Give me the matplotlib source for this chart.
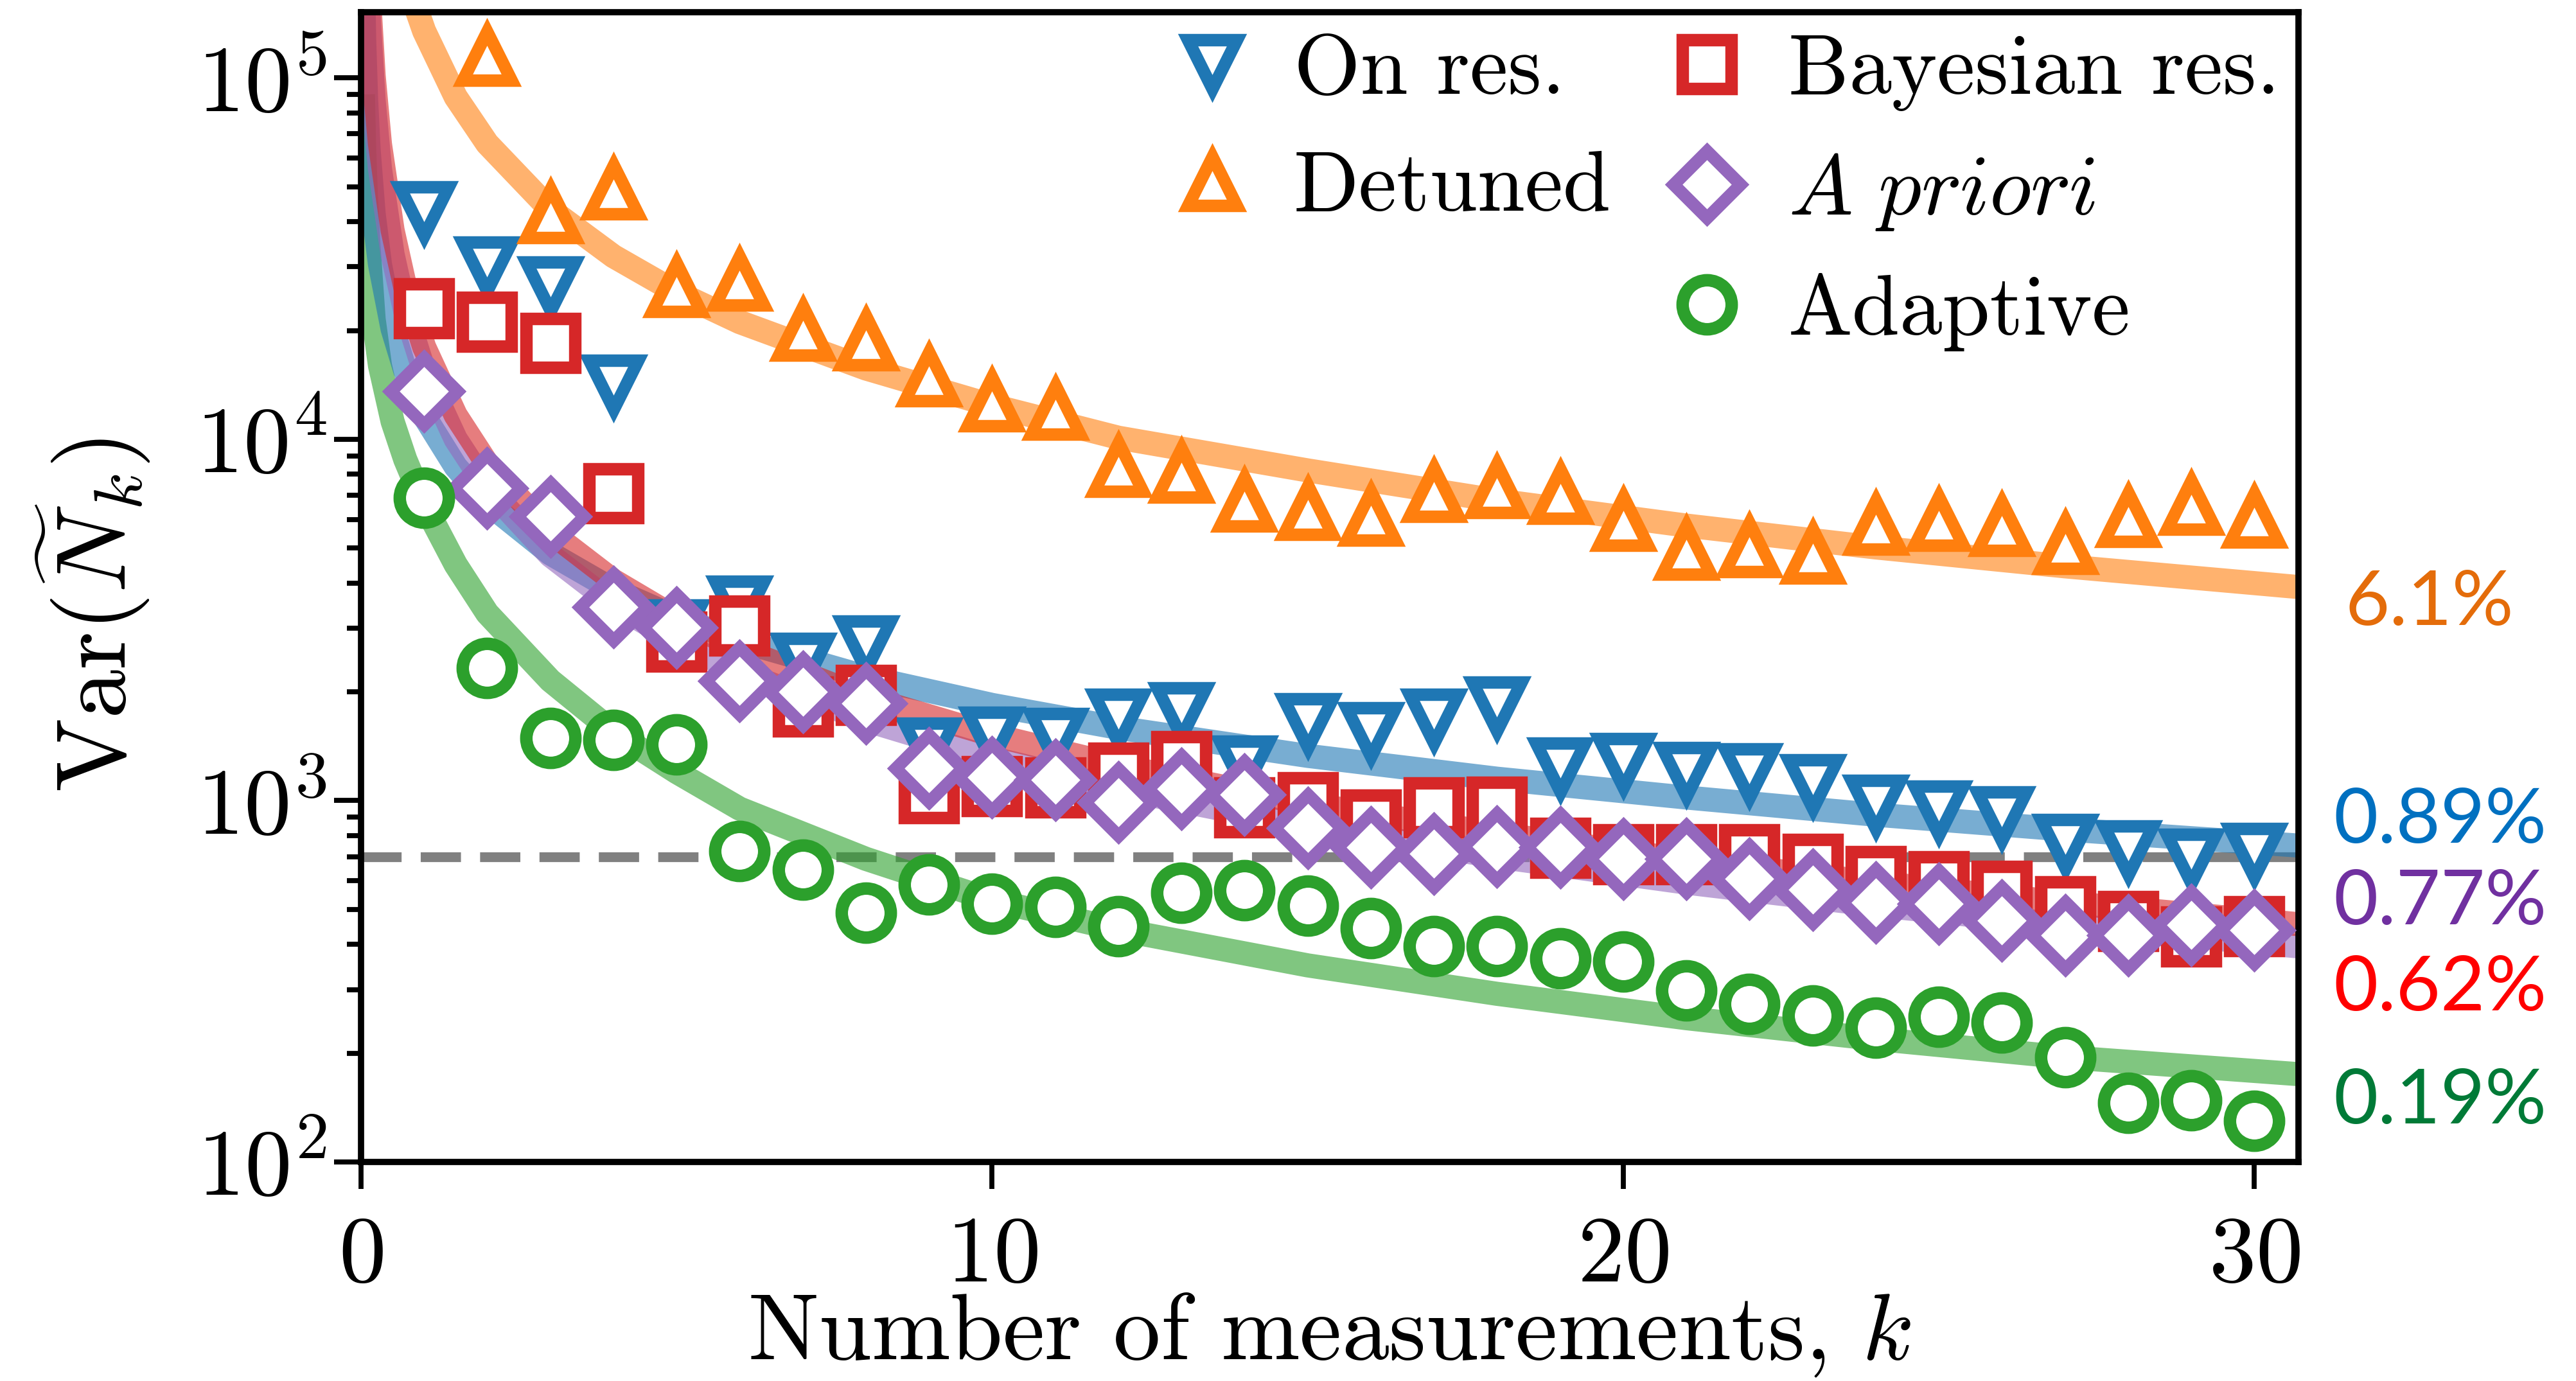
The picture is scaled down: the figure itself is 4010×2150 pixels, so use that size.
import numpy as np
import matplotlib
matplotlib.use('Agg')
import matplotlib.pyplot as plt
from matplotlib.lines import Line2D

plt.rcParams['font.family'] = 'serif'
plt.rcParams['font.serif'] = ['cmr10']
plt.rcParams['mathtext.fontset'] = 'cm'
plt.rcParams['axes.formatter.use_mathtext'] = True
plt.rcParams['axes.unicode_minus'] = False

# ---------------- data ----------------
k = list(range(1, 31))

on_res = [42700, 30000, 26450, 14170, 2970, 3467, 2410, 2689, 1402, 1501,
          1489, 1687, 1756, 1252, 1639, 1543, 1682, 1824, 1234, 1270,
          1199, 1189, 1109, 973, 937, 905, 759, 728, 691, 716]
detuned = [np.nan, 115000, 42200, 49200, 26400, 27500, 19960, 18750, 14900, 12700,
           12060, 8380, 8070, 6730, 6360, 6140, 7140, 7320, 7060, 5950,
           4940, 5020, 4820, 5790, 5950, 5760, 5130, 6100, 6580, 6070]
bayesian = [23000, 21100, 18430, 7100, 2754, 3050, 1820, 1957, 1047, 1094,
            1086, 1195, 1285, 959, 990, 887, 956, 962, 739, 710,
            710, 710, 669, 618, 598, 563, 510, 465, 421, 449]
a_priori = [13560, 7310, 6125, 3435, 3008, 2149, 2002, 1858, 1228, 1163,
            1144, 990, 1077, 1040, 839, 743, 714, 747, 743, 691,
            691, 609, 566, 522, 519, 466, 424, 424, 453, 439]
adaptive = [6880, 2325, 1491, 1471, 1431, 726, 643, 490, 586, 519,
            507, 450, 556, 564, 513, 444, 395, 395, 366, 358,
            298, 274, 254, 235, 252, 243, 195, 146, 148, 130]

# fitted curves, values read along each band
fit_k = [0.03, 0.05, 0.08, 0.12, 0.2, 0.3, 0.5, 0.7, 1, 1.5, 2, 3, 4, 5, 6, 8,
         10, 12, 15, 18, 21, 24, 27, 30.7]
fit_on_res = [192000, 128000, 87700, 63400, 42100, 30500, 20200, 15500, 11600, 8400,
              6670, 4830, 3830, 3210, 2770, 2200, 1840, 1590, 1330, 1150, 1020, 914, 832, 751]
fit_bayesian = [778000, 449000, 271000, 175500, 101400, 65600, 37900, 26400, 18000, 11650,
                8550, 5530, 4060, 3200, 2630, 1930, 1520, 1250, 980, 810, 685, 593, 522, 455]
fit_a_priori = [661000, 382000, 231000, 149800, 86700, 56100, 32500, 22650, 15460, 10010,
                7360, 4770, 3500, 2760, 2270, 1670, 1310, 1080, 850, 700, 593, 514, 453, 395]
fit_adaptive = [90000, 64000, 46000, 34000, 21500, 16000, 11200, 8800, 6600, 4500,
                3300, 2150, 1550, 1200, 950, 690, 530, 440, 350, 292, 250, 219, 195, 175]
fit_k_detuned = [0.8, 1, 1.5, 2, 3, 4, 5, 6, 8, 10, 12, 15, 18, 21, 24, 27, 30.7]
fit_detuned = [169800, 134800, 88600, 65800, 43200, 32100, 25500, 21100, 15700, 12400,
               10100, 8200, 6770, 5770, 5020, 4450, 3900]

threshold = 700

series_labels = ['On res.', 'Detuned', 'Bayesian res.', r'$\mathit{A\ priori}$', 'Adaptive']
pct_labels = ['6.1%', '0.89%', '0.77%', '0.62%', '0.19%']
pct_colors = ['#E46C0A', '#0070C0', '#7030A0', '#FF0000', '#007A37']
pct_pos = [(1.024, 0.4855), (1.018, 0.2963), (1.018, 0.2257), (1.018, 0.1503), (1.018, 0.0525)]

C_BLUE, C_ORANGE, C_GREEN, C_RED, C_PURPLE = '#1f77b4', '#ff7f0e', '#2ca02c', '#d62728', '#9467bd'

# ---------------- figure ----------------
fig = plt.figure(figsize=(20.05, 10.75), dpi=200)
ax = fig.add_axes([0.14015, 0.1586, 0.75212, 0.83256])

ax.axhline(threshold, color='#808080', lw=5.5, ls=(0, (4.1, 1.95)), zorder=1)

band = dict(alpha=0.6, lw=13.5, solid_capstyle='butt')
ax.plot(fit_k, fit_adaptive, color=C_GREEN, zorder=2, **band)
ax.plot(fit_k, fit_on_res, color=C_BLUE, zorder=2.1, **band)
ax.plot(fit_k, fit_a_priori, color=C_PURPLE, zorder=2.2, **band)
ax.plot(fit_k, fit_bayesian, color=C_RED, zorder=2.3, **band)
ax.plot(fit_k_detuned, fit_detuned, color=C_ORANGE, zorder=2.4, **band)

mk = dict(ls='none', mew=7, mfc='white')
h1, = ax.plot(k, on_res, marker='v', ms=27.5, mec=C_BLUE, zorder=5, **mk)
h2, = ax.plot(k, detuned, marker='^', ms=27.5, mec=C_ORANGE, zorder=5.1, **mk)
h3, = ax.plot(k, bayesian, marker='s', ms=27.5, mec=C_RED, zorder=5.2, **mk)
h4, = ax.plot(k, a_priori, marker='D', ms=26.5, mec=C_PURPLE, zorder=5.3, **mk)
h5, = ax.plot(k, adaptive, marker='o', ms=27.5, mec=C_GREEN, zorder=5.4, **mk)

ax.set_yscale('log')
ax.set_ylim(100, 1.52e5)
ax.set_xlim(0, 30.7)
ax.set_xticks([0, 10, 20, 30])
ax.tick_params(which='major', length=15, width=2.8, labelsize=53, direction='out')
ax.tick_params(which='minor', length=8, width=2.8, direction='out')
ax.tick_params(axis='x', which='minor', bottom=False)
ax.tick_params(axis='x', pad=15)
ax.tick_params(axis='y', pad=4)
for s in ax.spines.values():
    s.set_linewidth(3.5)

ax.set_xlabel(r'Number of measurements, $k$', fontsize=53, va='top')
ax.xaxis.set_label_coords(0.5, -0.113)
ax.set_ylabel(r'$\mathrm{Var}(\widetilde{N}_k)$', fontsize=55, va='center')
ax.yaxis.set_label_coords(-0.138, 0.476)

dummy = Line2D([], [], ls='none', marker='')
handles = [h1, h2, dummy, h3, h4, h5]
labels = [series_labels[0], series_labels[1], '', series_labels[2], series_labels[3], series_labels[4]]
ax.legend(handles, labels, ncol=2, loc='upper right', bbox_to_anchor=(0.9904, 0.981),
          frameon=False, fontsize=48, handlelength=1.0, handletextpad=0.45,
          columnspacing=0.62, labelspacing=0.47, borderpad=0, borderaxespad=0)

for txt, col, pos in zip(pct_labels, pct_colors, pct_pos):
    ax.text(pos[0], pos[1], txt, transform=ax.transAxes, color=col, fontsize=43,
            family=['Lato', 'DejaVu Sans'], ha='left', va='center', clip_on=False)

fig.savefig('out.png', dpi=200)
